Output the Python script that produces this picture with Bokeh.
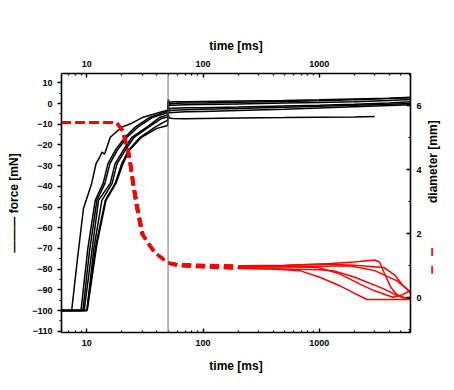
import math
from bokeh.plotting import figure
from bokeh.models import (LinearAxis, LogAxis, Range1d, FixedTicker, Span, Label,
                          BasicTickFormatter)
from bokeh.embed import file_html
from bokeh.resources import INLINE

# ---------------- data ----------------
x_ticks = [10, 100, 1000]
x_minor = [6, 7, 8, 9, 20, 30, 40, 50, 60, 70, 80, 90,
           200, 300, 400, 500, 600, 700, 800, 900, 2000, 3000, 4000, 5000, 6000]
force_ticks = [-110, -100, -90, -80, -70, -60, -50, -40, -30, -20, -10, 0, 10]
force_minor = [-105, -95, -85, -75, -65, -55, -45, -35, -25, -15, -5, 5]
dia_ticks = [0, 2, 4, 6]
dia_minor = [-1, 1, 3, 5, 7]
t_switch = 50  # ms, vertical marker

# force curves (time [ms], force [mN])
f1_t = [6.05, 7.4, 8.3, 9.35, 11.0, 12.0, 13.0, 13.5, 14.2, 15.9, 20.0, 24.4, 30.5, 42.7, 49.6, 50.3, 51, 55, 70, 100, 200, 500, 1000, 2000, 4000, 6100]
f1_v = [-100, -100, -75, -50.7, -38.6, -29, -25.5, -23.5, -24.5, -16.3, -11.4, -9.5, -6.6, -4.2, -3.2, 2.0, 0.5, 0.8, 0.9, 1.0, 1.2, 1.5, 1.8, 2.2, 2.6, 3.0]
f2_t = [6.05, 8.9, 10.2, 11.8, 13.8, 15.2, 17.5, 21.3, 26.0, 35.0, 45, 49.6, 50.3, 51, 55, 70, 100, 200, 500, 1000, 2000, 4000, 6100]
f2_v = [-100, -100, -70, -46.8, -38.6, -29, -22.7, -16.3, -11.4, -6.6, -4.5, -3.8, 1.5, -0.3, 0, 0.2, 0.3, 0.6, 1.0, 1.3, 1.8, 2.4, 2.8]
f3_t = [6.05, 9.24, 10.5, 12.2, 14.3, 15.8, 18.2, 22.2, 27.5, 37, 46, 49.6, 50.3, 51, 55, 70, 100, 200, 500, 1000, 2000, 4000, 6100]
f3_v = [-100, -100, -72, -46.8, -38.6, -29, -22.7, -16.3, -11.4, -6.6, -5.0, -4.5, 0.5, -1.0, -0.8, -0.6, -0.5, -0.2, 0.2, 0.5, 0.9, 1.5, 2.0]
f4_t = [6.05, 9.48, 11.0, 12.6, 15.9, 17.5, 20.5, 24.4, 32.8, 42.7, 49.6, 50.3, 51, 55, 70, 100, 200, 500, 1000, 2000, 4000, 6100]
f4_v = [-100, -100, -72, -46.8, -38.6, -29, -22.7, -16.3, -11.4, -6.6, -5.5, -1.0, -2.5, -2.3, -2.1, -2.0, -1.7, -1.2, -0.8, -0.3, 0.3, 0.8]
f5_t = [6.05, 10.0, 11.5, 13.46, 16.5, 18.2, 21.3, 25.5, 34.0, 44.0, 49.6, 50.3, 51, 55, 70, 100, 200, 500, 1000, 2000, 4000, 6100]
f5_v = [-100, -100, -70, -46.8, -38.6, -29, -22.7, -16.3, -11.4, -7.2, -6.5, -2.0, -3.5, -3.3, -3.0, -2.8, -2.4, -1.8, -1.3, -0.8, -0.3, 0.0]
f6_t = [6.05, 10.0, 12.0, 14.4, 17.5, 20.0, 22.7, 28.7, 38.6, 46, 49.6, 50.3, 51, 55, 70, 100, 200, 500, 1000, 2000, 4000, 6100]
f6_v = [-100, -100, -68, -46.8, -38.6, -29, -22.7, -16.3, -11.4, -9.0, -8.0, -3.0, -4.5, -4.3, -4.0, -3.8, -3.4, -2.8, -2.2, -1.6, -1.0, -0.6]
f7_t = [6.05, 10.06, 12.2, 14.6, 17.8, 20.5, 23.2, 29.5, 40.0, 47, 49.6, 50.3, 51, 55, 70, 100, 200, 500, 1000, 2000, 3000]
f7_v = [-100, -100, -68, -46.8, -38.6, -29, -22.7, -16.3, -12.0, -11.0, -10.5, -5.0, -7.0, -7.2, -7.3, -7.2, -7.0, -6.8, -6.6, -6.5, -6.3]

# diameter curves (time [ms], diameter [mm])
d1_t = [6.05, 18, 20, 22.7, 24.9, 26.5, 29.7, 37.2, 48.8, 60, 100, 200, 500, 1000, 2000, 3000, 3300, 3600, 4100, 4600, 5200, 6100]
d1_v = [5.47, 5.47, 5.26, 4.57, 3.55, 2.93, 2.0, 1.47, 1.1, 1.05, 1.02, 1.0, 1.02, 1.05, 1.12, 1.18, 1.12, 0.8, 0.35, 0.12, 0.0, 0.0]
d2_t = [6.05, 18, 20.5, 23.2, 25.5, 27.2, 30.5, 38.5, 50, 60, 100, 200, 500, 1000, 2000, 3600, 4500, 5200, 6100]
d2_v = [5.47, 5.47, 5.2, 4.45, 3.45, 2.85, 1.95, 1.42, 1.08, 1.04, 1.0, 0.98, 1.0, 1.06, 1.02, 0.95, 0.7, 0.4, 0.17]
d3_t = [6.05, 18, 20, 22.7, 24.9, 26.5, 29.7, 37.2, 48.8, 60, 100, 200, 500, 970, 1500, 2240, 3000, 4300, 5200, 6100]
d3_v = [5.47, 5.47, 5.26, 4.57, 3.55, 2.93, 2.0, 1.47, 1.1, 1.03, 0.98, 0.95, 0.97, 0.95, 0.75, 0.43, 0.22, 0.02, 0.1, 0.23]
d4_t = [6.05, 18, 20.5, 23.2, 25.5, 27.2, 30.5, 38.5, 50, 60, 100, 200, 400, 680, 1000, 1500, 2000, 2570, 4000, 6100]
d4_v = [5.47, 5.47, 5.2, 4.45, 3.45, 2.85, 1.95, 1.42, 1.08, 1.02, 0.97, 0.93, 0.9, 0.85, 0.65, 0.38, 0.15, -0.05, -0.05, -0.05]
d5_t = [6.05, 18, 20, 22.7, 24.9, 26.5, 29.7, 37.2, 48.8, 60, 100, 200, 500, 1000, 1320, 2000, 3600, 4500, 5600, 6100]
d5_v = [5.47, 5.47, 5.26, 4.57, 3.55, 2.93, 2.0, 1.47, 1.1, 1.0, 0.96, 0.92, 0.9, 0.88, 0.85, 0.65, 0.28, 0.1, 0.0, 0.0]
d6_t = [6.05, 18, 20.5, 23.2, 25.5, 27.2, 30.5, 38.5, 50, 60, 100, 200, 500, 1000, 1830, 3000, 4630, 5400, 6100]
d6_v = [5.47, 5.47, 5.2, 4.45, 3.45, 2.85, 1.95, 1.42, 1.08, 1.04, 1.01, 0.99, 0.98, 0.99, 1.0, 0.85, 0.54, 0.35, 0.17]

force_curves = [(f1_t, f1_v), (f2_t, f2_v), (f3_t, f3_v), (f4_t, f4_v),
                (f5_t, f5_v), (f6_t, f6_v), (f7_t, f7_v)]
dia_curves = [(d1_t, d1_v), (d2_t, d2_v), (d3_t, d3_v), (d4_t, d4_v),
              (d5_t, d5_v), (d6_t, d6_v)]
dash_until = 200  # ms: dashed look before, dense (solid look) after

# ---------------- figure ----------------
FONT = "Liberation Sans"
p = figure(x_axis_type="log", x_range=Range1d(6.05, 6100), y_range=Range1d(-110.6, 14.5),
           frame_width=349, frame_height=259, output_backend="svg", toolbar_location=None,
           min_border_left=61, min_border_right=40, min_border_top=73, min_border_bottom=54,
           background_fill_color="white", border_fill_color="white")
p.extra_y_ranges = {"dia": Range1d(-1.08, 7.0)}
p.xgrid.visible = False
p.ygrid.visible = False
p.outline_line_color = None

xt = FixedTicker(ticks=x_ticks, minor_ticks=x_minor)


def style(ax, tin, tout, mtin, mtout):
    ax.axis_line_width = 1.6
    ax.axis_line_color = "black"
    ax.major_tick_line_width = 1.4
    ax.minor_tick_line_width = 1.2
    ax.major_tick_in = tin
    ax.major_tick_out = tout
    ax.minor_tick_in = mtin
    ax.minor_tick_out = mtout
    ax.major_label_text_font = FONT
    ax.major_label_text_font_style = "bold"
    ax.major_label_text_font_size = "9px"
    ax.major_label_text_color = "black"
    ax.axis_label_text_font = FONT
    ax.axis_label_text_font_style = "bold"
    ax.axis_label_text_font_size = "12px"
    ax.axis_label_text_color = "black"


bx = p.xaxis[0]
bx.ticker = xt
bx.formatter = BasicTickFormatter()
bx.axis_label = "time [ms]"
style(bx, 4, 0, 2, 0)
bx.major_label_standoff = 7
bx.axis_label_standoff = 10

tx = LogAxis(ticker=xt, formatter=BasicTickFormatter(), axis_label="time [ms]")
style(tx, 4, 0, 2, 0)
tx.major_label_standoff = 7
tx.axis_label_standoff = 5
p.add_layout(tx, "above")

ly = p.yaxis[0]
ly.ticker = FixedTicker(ticks=force_ticks, minor_ticks=force_minor)
ly.axis_label = "\u2014\u2014\u2014 force [mN]"
style(ly, 0, 4, 0, 2)
ly.major_label_standoff = 5
ly.axis_label_standoff = 8

ry = LinearAxis(y_range_name="dia", ticker=FixedTicker(ticks=dia_ticks, minor_ticks=dia_minor),
                axis_label="diameter [mm]")
style(ry, 4, 0, 2, 0)
ry.major_label_standoff = 6
ry.axis_label_standoff = 8
ry.axis_label_orientation = math.pi / 2
p.add_layout(ry, "right")

# vertical marker at 50 ms
p.add_layout(Span(location=t_switch, dimension="height", line_color="#6e6e6e", line_width=1))

# force curves
for t, v in force_curves:
    p.line(t, v, line_color="black", line_width=1.5)

# diameter curves
for t, v in dia_curves:
    early = [(a, b) for a, b in zip(t, v) if a <= dash_until]
    late = [(a, b) for a, b in zip(t, v) if a >= dash_until]
    p.line([a for a, _ in early], [b for _, b in early], y_range_name="dia",
           line_color="#ff0000", line_width=3, line_dash="9 5")
    p.line([a for a, _ in late], [b for _, b in late], y_range_name="dia",
           line_color="#ff0000", line_width=1.5)

# red dashed sample next to the right axis label (in a side panel so it is not clipped)
p.add_layout(Label(x=9300, y=1.15, y_range_name="dia", text="\u2013\u00a0\u00a0\u2013",
                   text_color="#ff0000", text_font=FONT, text_font_style="bold",
                   text_font_size="16px", angle=math.pi / 2,
                   text_align="center", text_baseline="middle"), "below")

open("out.html", "w").write(file_html(p, INLINE))
